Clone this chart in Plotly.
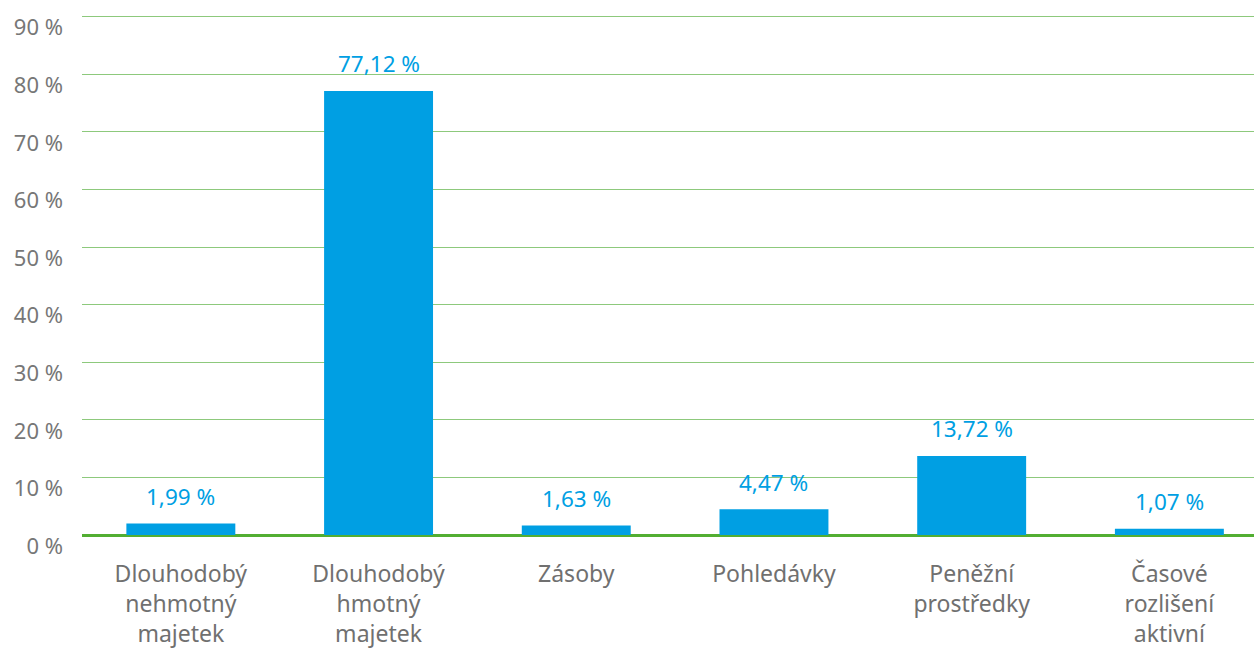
import plotly.graph_objects as go

categories = ["Dlouhodobý<br>nehmotný<br>majetek", "Dlouhodobý<br>hmotný<br>majetek", "Zásoby",
              "Pohledávky", "Peněžní<br>prostředky", "Časové<br>rozlišení<br>aktivní"]
values = [1.99, 77.12, 1.63, 4.47, 13.72, 1.07]
tick_vals = [0, 10, 20, 30, 40, 50, 60, 70, 80, 90]
tick_text = [f"{v} %" for v in tick_vals]
labels = [f"{v:.2f}".replace(".", ",") + " %" for v in values]

FONT = "Noto Sans"
BLUE = "#009FE3"

fig = go.Figure()
fig.add_trace(go.Bar(x=categories, y=values, marker=dict(color=BLUE, line=dict(width=0)),
                     hoverinfo="skip"))

for c, v, t in zip(categories, values, labels):
    fig.add_annotation(x=c, y=v, text=t, showarrow=False, yanchor="middle", yshift=27,
                       font=dict(family=FONT, size=22.5, color=BLUE))

fig.update_layout(
    width=1254, height=648,
    margin=dict(l=82, r=0, t=15, b=113, autoexpand=False),
    paper_bgcolor="white", plot_bgcolor="white",
    bargap=0.449, showlegend=False,
    font=dict(family=FONT, size=22, color="#707070"),
)
fig.update_xaxes(range=[-0.5, 5.428], showgrid=False, showline=False, ticks="", automargin=False,
                 ticklabelstandoff=23, tickfont=dict(family=FONT, size=23, color="#707070"))
fig.update_yaxes(range=[0, 90.3], tickvals=tick_vals, ticktext=tick_text, automargin=False,
                 showgrid=True, gridcolor="#8dc97c", gridwidth=1,
                 zeroline=True, zerolinecolor="#52ae32", zerolinewidth=3,
                 showline=False, ticks="", ticklabelshift=11, ticklabelstandoff=18,
                 tickfont=dict(family=FONT, size=22, color="#777777"))

fig.write_html("out.html", config={"displayModeBar": False},
               post_script="document.body.style.margin='0';")
